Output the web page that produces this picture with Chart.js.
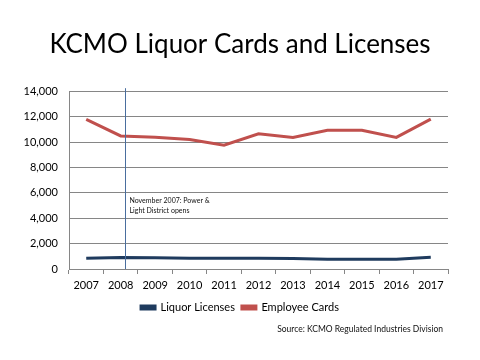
<!DOCTYPE html>
<html><head><meta charset="utf-8">
<script src="https://cdn.jsdelivr.net/npm/chart.js@4/dist/chart.umd.min.js"></script>
<style>html,body{margin:0;padding:0;background:#fff}#wrap{width:480px;height:360px}</style>
</head><body><div id="wrap"><canvas id="c" width="480" height="360"></canvas></div>
<script>
const years = ['2007','2008','2009','2010','2011','2012','2013','2014','2015','2016','2017'];
const liquorLicenses = [840, 910, 890, 840, 840, 840, 830, 760, 760, 760, 920];
const employeeCards = [11780, 10480, 10380, 10200, 9750, 10650, 10360, 10920, 10920, 10360, 11800];
const yTicks = [0, 2000, 4000, 6000, 8000, 10000, 12000, 14000];
const noteLines = ['November 2007: Power &', 'Light District opens'];
const noteIndex = 1.13;
const sourceText = 'Source: KCMO Regulated Industries Division';
const FONT = 'Lato';

const notePlugin = {
  id: 'note',
  afterDatasetsDraw(chart) {
    const {ctx, chartArea, scales} = chart;
    const x = Math.round(scales.x.getPixelForValue(noteIndex)) + 0.5;
    ctx.save();
    ctx.strokeStyle = '#4A6E9E';
    ctx.lineWidth = 1;
    ctx.beginPath();
    ctx.moveTo(x, chartArea.top - 3);
    ctx.lineTo(x, chartArea.bottom);
    ctx.stroke();
    ctx.fillStyle = '#111';
    ctx.font = '7px ' + FONT;
    ctx.textBaseline = 'middle';
    const y0 = scales.y.getPixelForValue(5000);
    ctx.fillText(noteLines[0], x + 4, y0 - 5);
    ctx.fillText(noteLines[1], x + 4, y0 + 5);
    ctx.restore();
  },
  afterDraw(chart) {
    const {ctx, chartArea} = chart;
    ctx.save();
    ctx.fillStyle = '#111';
    ctx.font = '8.5px ' + FONT;
    ctx.textAlign = 'right';
    ctx.textBaseline = 'middle';
    ctx.fillText(sourceText, chartArea.right - 5, chartArea.bottom + 60);
    ctx.restore();
  }
};

new Chart(document.getElementById('c'), {
  type: 'line',
  data: {
    labels: years,
    datasets: [
      {label: 'Liquor Licenses', data: liquorLicenses, borderColor: '#1F3B5E', backgroundColor: '#1F3B5E', borderWidth: 3, pointRadius: 0, tension: 0},
      {label: 'Employee Cards', data: employeeCards, borderColor: '#C0504D', backgroundColor: '#C0504D', borderWidth: 3, pointRadius: 0, tension: 0}
    ]
  },
  options: {
    responsive: false,
    animation: false,
    devicePixelRatio: 1,
    layout: {padding: {left: 16, right: 16, top: 0, bottom: 37}},
    plugins: {
      title: {display: true, text: 'KCMO Liquor Cards and Licenses', color: '#000', font: {family: FONT, size: 26, weight: 'normal'}, padding: {top: 29, bottom: 31}},
      legend: {position: 'bottom', labels: {boxWidth: 14, boxHeight: 3, color: '#000', font: {family: FONT, size: 11}, padding: 7}},
      tooltip: {enabled: false}
    },
    scales: {
      x: {
        offset: true,
        grid: {offset: true, drawOnChartArea: false, drawTicks: true, tickLength: 5, color: '#868686'},
        border: {color: '#868686'},
        ticks: {color: '#000', font: {family: FONT, size: 11}, padding: 5, maxRotation: 0},
        afterFit(s) { s.height = 26; }
      },
      y: {
        min: 0, max: 14000,
        afterBuildTicks(s) { s.ticks = yTicks.map(v => ({value: v})); },
        grid: {color: '#868686', drawTicks: false},
        border: {color: '#868686'},
        ticks: {color: '#000', font: {family: FONT, size: 11}, padding: 11, callback: v => v.toLocaleString('en-US')},
        afterFit(s) { s.width = 53; }
      },
      y2: {
        position: 'right',
        display: true,
        grid: {drawOnChartArea: false, drawTicks: false},
        border: {display: false},
        ticks: {display: false},
        afterFit(s) { s.width = 16; }
      }
    }
  },
  plugins: [notePlugin]
});
</script></body></html>
